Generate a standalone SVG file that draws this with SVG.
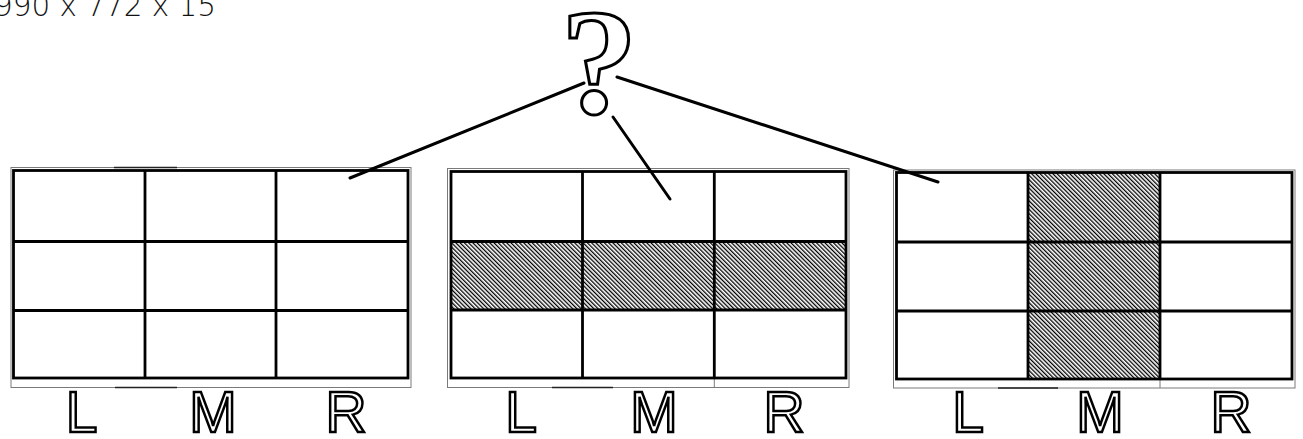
<svg xmlns="http://www.w3.org/2000/svg" width="1303" height="439" viewBox="0 0 1303 439">
<style>
.thin{fill:none;stroke:#7a7a7a;stroke-width:1}
.dark{fill:none;stroke:#222;stroke-width:1.6}
.thick{fill:none;stroke:#000;stroke-width:2.8}
.conn{fill:none;stroke:#000;stroke-width:3;stroke-linecap:round}
.lbl{font-family:"Liberation Sans",Arial,sans-serif;font-size:57px;fill:#fff;stroke:#000;stroke-width:2.5;text-anchor:middle}
.q{font-family:"Liberation Serif","Times New Roman",serif;font-weight:bold;font-size:150px;fill:#fff;stroke:#000;stroke-width:3;text-anchor:middle}
.cap{font-family:"DejaVu Sans",sans-serif;font-weight:200;font-size:30px;fill:#111}
</style>
<defs>
<pattern id="hatch" width="3" height="3" patternUnits="userSpaceOnUse" patternTransform="rotate(-45)">
<rect width="3" height="3" fill="#fff"/>
<rect width="1.3" height="3" fill="#000"/>
</pattern>
</defs>
<rect width="1303" height="439" fill="#fff"/>
<g id="caption"><text class="cap" x="-6" y="16" textLength="222" lengthAdjust="spacingAndGlyphs">990 x 772 x 15</text></g>
<g id="question"><text class="q" transform="translate(599,113) scale(1.03,1)" x="0" y="0">?</text></g>
<g id="panel-1">
<rect x="13.5" y="170.5" width="394.5" height="207.5" fill="#fff"/>
<rect class="thin" x="11" y="167.5" width="400" height="220"/>
<path class="dark" d="M114,167.5 H177 M115,387.5 H177"/>
<rect class="thick" x="13.5" y="170.5" width="394.5" height="207.5"/>
<path class="thick" d="M145,170.5 V378 M276,170.5 V378 M13.5,241.5 H408 M13.5,310.5 H408"/>
<text class="lbl" x="81.5" y="432">L</text>
<text class="lbl" x="213" y="432">M</text>
<text class="lbl" x="346" y="432">R</text>
</g>
<g id="panel-2">
<rect x="451" y="171.5" width="395" height="206.5" fill="#fff"/>
<rect x="451" y="241.5" width="395" height="68.5" fill="url(#hatch)"/>
<rect class="thin" x="447.5" y="168.5" width="401.5" height="219"/>
<path class="thin" d="M714.3,378 V387.5"/>
<path class="dark" d="M552,387.5 H613"/>
<rect class="thick" x="451" y="171.5" width="395" height="206.5"/>
<path class="thick" d="M582.5,171.5 V378 M714.3,171.5 V378 M451,241.5 H846 M451,310 H846"/>
<text class="lbl" x="521" y="432">L</text>
<text class="lbl" x="654" y="432">M</text>
<text class="lbl" x="784" y="432">R</text>
</g>
<g id="panel-3">
<rect x="896.5" y="172.5" width="395.5" height="206.5" fill="#fff"/>
<rect x="1028" y="172.5" width="132" height="206.5" fill="url(#hatch)"/>
<rect class="thin" x="893.5" y="170" width="401.5" height="218"/>
<path class="thin" d="M1160,379 V388"/>
<path class="dark" d="M998,388 H1058"/>
<rect class="thick" x="896.5" y="172.5" width="395.5" height="206.5"/>
<path class="thick" d="M1028,172.5 V379 M1160,172.5 V379 M896.5,242 H1292 M896.5,311 H1292"/>
<text class="lbl" x="968" y="432">L</text>
<text class="lbl" x="1100" y="432">M</text>
<text class="lbl" x="1231" y="432">R</text>
</g>
<g id="connectors">
<line class="conn" x1="584" y1="83" x2="350" y2="178"/>
<line class="conn" x1="613" y1="117" x2="670" y2="199"/>
<line class="conn" x1="617" y1="77" x2="938" y2="182"/>
</g>
</svg>
